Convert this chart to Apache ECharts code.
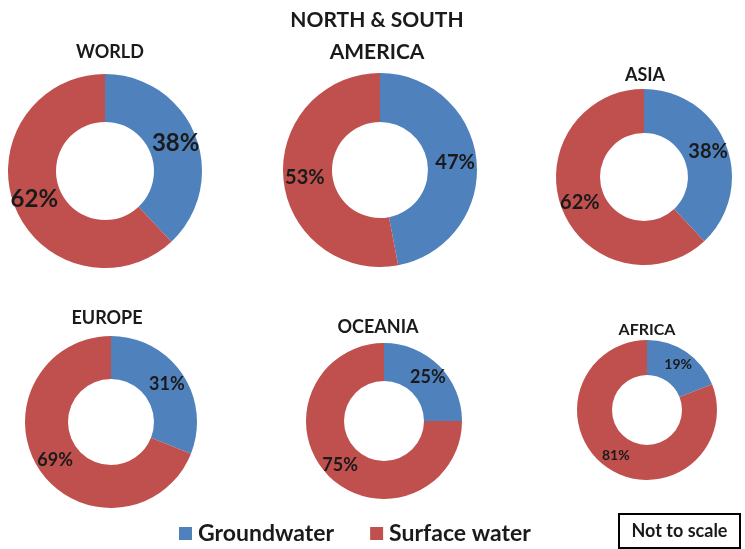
<!DOCTYPE html>
<html>
<head>
<meta charset="utf-8">
<title>Groundwater and surface water shares by region</title>
<script src="https://cdn.jsdelivr.net/npm/echarts@6/dist/echarts.min.js"></script>
<style>
  html, body { margin: 0; padding: 0; background: #ffffff; }
  #chart { width: 745px; height: 549px; }
</style>
</head>
<body>
<div id="chart"></div>
<script>
// Share of water withdrawals by source, per region (percent)
const regions = ['WORLD', 'NORTH & SOUTH\nAMERICA', 'ASIA', 'EUROPE', 'OCEANIA', 'AFRICA'];
const groundwater = [38, 47, 38, 31, 25, 19];
const surfaceWater = [62, 53, 62, 69, 75, 81];
const sourceNames = ['Groundwater', 'Surface water'];
const noteText = 'Not to scale';

// Donut placement: centre, ring radii, title anchor and font sizes
const layout = [
  { cx: 105, cy: 171, r0: 49, r1: 97, tx: 110, ty: 52, tSize: 18, lSize: 24 },
  { cx: 380, cy: 170, r0: 48, r1: 97, tx: 377, ty: 36, tSize: 21, lSize: 20 },
  { cx: 644, cy: 177, r0: 44, r1: 88, tx: 645, ty: 75, tSize: 18, lSize: 20 },
  { cx: 111, cy: 422, r0: 43, r1: 86, tx: 107, ty: 318, tSize: 18, lSize: 18 },
  { cx: 384, cy: 421, r0: 40, r1: 78, tx: 378, ty: 327, tSize: 18, lSize: 18 },
  { cx: 647, cy: 410, r0: 35, r1: 70, tx: 647, ty: 330, tSize: 16, lSize: 14 }
];

const BLUE = '#4F81BD';
const RED = '#C0504D';
const INK = '#1a1a1a';
const FONT = 'Lato, "Open Sans", sans-serif';

const titles = regions.map((name, i) => {
  const L = layout[i];
  const lh = L.tSize + 11;
  const lines = name.split('\n').length;
  return {
    text: name,
    left: L.tx,
    top: L.ty - (lh * lines) / 2,
    textAlign: 'center',
    padding: 0,
    textStyle: {
      fontFamily: FONT,
      fontWeight: 'bold',
      fontSize: L.tSize,
      lineHeight: lh,
      color: INK
    }
  };
});

const series = regions.map((name, i) => {
  const L = layout[i];
  return {
    type: 'pie',
    name: name.replace('\n', ' '),
    center: [L.cx, L.cy],
    radius: [L.r0, L.r1],
    startAngle: 90,
    clockwise: true,
    avoidLabelOverlap: false,
    silent: true,
    label: {
      show: true,
      position: 'inside',
      formatter: '{c}%',
      fontFamily: FONT,
      fontWeight: 'bold',
      fontSize: L.lSize,
      color: INK
    },
    labelLine: { show: false },
    itemStyle: { borderWidth: 0 },
    data: [
      { name: sourceNames[0], value: groundwater[i], itemStyle: { color: BLUE } },
      { name: sourceNames[1], value: surfaceWater[i], itemStyle: { color: RED } }
    ]
  };
});

const chart = echarts.init(document.getElementById('chart'), null, { renderer: 'canvas' });
chart.setOption({
  backgroundColor: '#ffffff',
  animation: false,
  title: titles,
  legend: {
    data: sourceNames,
    left: 174,
    top: 517,
    icon: 'rect',
    itemWidth: 13,
    itemHeight: 13,
    itemGap: 36,
    selectedMode: false,
    textStyle: {
      fontFamily: FONT,
      fontWeight: 'bold',
      fontSize: 23,
      color: INK,
      padding: [0, 0, 0, 1]
    }
  },
  graphic: [
    {
      type: 'group',
      left: 618,
      top: 513,
      children: [
        {
          type: 'rect',
          shape: { x: 0, y: 0, width: 121, height: 34 },
          style: { fill: '#ffffff', stroke: '#000000', lineWidth: 2 }
        },
        {
          type: 'text',
          x: 60.5,
          y: 17,
          style: {
            text: noteText,
            fontFamily: FONT,
            fontWeight: 'bold',
            fontSize: 18,
            fill: INK,
            textAlign: 'center',
            textVerticalAlign: 'middle'
          }
        }
      ]
    }
  ],
  series: series
});
</script>
</body>
</html>
